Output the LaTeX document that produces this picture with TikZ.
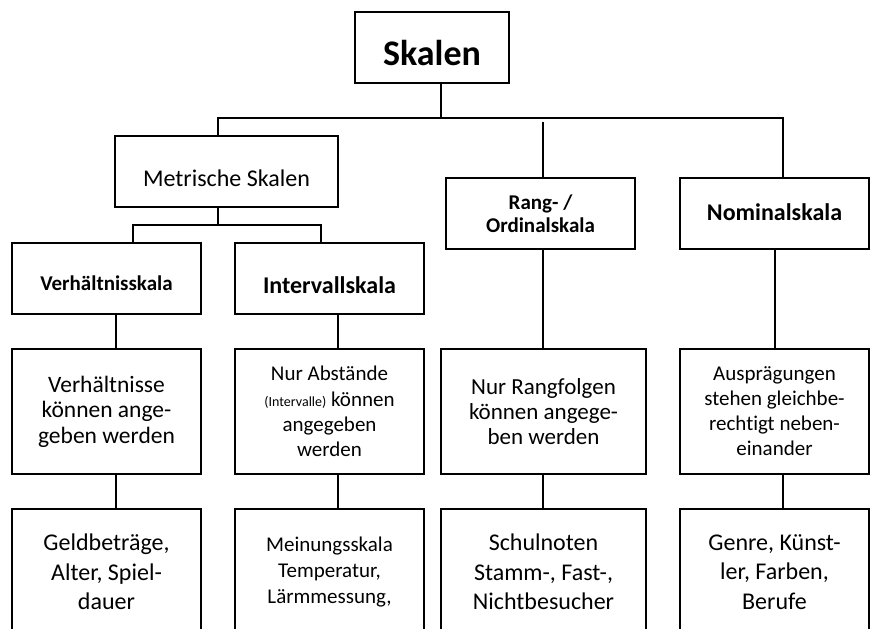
\documentclass[tikz,border=0pt]{standalone}
\usepackage{fontspec}
\setmainfont{Carlito}[Ligatures=NoCommon]

\begin{document}
\begin{tikzpicture}[x=1pt,y=-1pt,line width=1.8pt,
    box/.style={draw, rectangle, inner sep=0pt, align=center},
    hbox/.style={box, minimum width=189pt, minimum height=71pt, text depth=0pt},
    cbox/.style={box, minimum width=189pt, minimum height=125pt},
    lbox/.style={box, minimum width=189pt, minimum height=126pt}]

  \useasboundingbox (0,0) rectangle (870,629);
  \clip (0,0) rectangle (870,629);

  % top level
  \node[hbox, minimum width=154pt, text height=35pt,
        font=\fontsize{36}{40}\selectfont\bfseries]        (S)  at (432,47.5)    {Skalen};
  \node[hbox, minimum width=223pt, text height=29pt,
        font=\fontsize{24}{28}\selectfont]                 (M)  at (226.5,171.5) {Metrische Skalen};
  \node[box, minimum width=189pt, minimum height=71pt,
        font=\fontsize{21}{22.7}\selectfont\bfseries]      (R)  at (540.5,213.5) {Rang- /\\Ordinalskala};
  \node[hbox, text height=13pt,
        font=\fontsize{24}{28}\selectfont\bfseries]        (N)  at (774.5,213.5) {Nominalskala};
  \node[hbox, text height=23pt,
        font=\fontsize{21}{25}\selectfont\bfseries]        (V)  at (106.5,278.5) {Verhältnisskala};
  \node[hbox, text height=29.6pt,
        font=\fontsize{24}{28}\selectfont\bfseries]        (I)  at (329.5,278.5) {Intervallskala};

  % what can be said
  \node[cbox, font=\fontsize{23.5}{25.5}\selectfont]       (V2) at (106.5,411.5) {Verhältnisse\\können ange-\\geben werden};
  \node[cbox, font=\fontsize{21}{25.3}\selectfont]         (I2) at (329.5,411.5) {Nur Abstände\\{\fontsize{14}{14}\selectfont (Intervalle)} können\\angegeben\\werden};
  \node[cbox, minimum width=205pt,
        font=\fontsize{23}{25}\selectfont]                 (R2) at (543.5,411.5) {Nur Rangfolgen\\können angege-\\ben werden};
  \node[cbox, font=\fontsize{21}{25}\selectfont]           (N2) at (774.5,411.5) {Ausprägungen\\stehen gleichbe-\\rechtigt neben-\\einander};

  % examples
  \node[lbox, font=\fontsize{24}{29.6}\selectfont]         (V3) at (106.5,572)   {Geldbeträge,\\Alter, Spiel-\\dauer};
  \node[lbox, font=\fontsize{21}{25.8}\selectfont]         (I3) at (329.5,572)   {Meinungsskala\\Temperatur,\\Lärmmessung,};
  \node[lbox, minimum width=205pt,
        font=\fontsize{24}{29.6}\selectfont]               (R3) at (543.5,572)   {Schulnoten\\Stamm-, Fast-,\\Nichtbesucher};
  \node[lbox, font=\fontsize{24}{29.6}\selectfont]         (N3) at (774.5,572)   {Genre, Künst-\\ler, Farben,\\Berufe};

  \coordinate (hub)  at (441,118);
  \coordinate (barL) at (218,118);
  \coordinate (barR) at (783,118);
  \coordinate (rtop) at (543,122);
  \coordinate (sub)  at (218,225);
  \coordinate (subL) at (133,225);
  \coordinate (subR) at (321,225);
  \coordinate (k1)   at (116,0);
  \coordinate (k2)   at (338,0);
  \coordinate (k3)   at (543,0);
  \coordinate (k4)   at (775,0);

  \draw (S.south -| hub) -- (hub);
  \draw (M.north -| barL) |- (barR) -- (N.north -| barR);
  \draw (rtop) -- (R.north -| rtop);
  \draw (M.south -| sub) -- (sub);
  \draw (V.north -| subL) |- (subR) -- (I.north -| subR);

  \foreach \a/\b/\k in {V/V2/k1, V2/V3/k1, I/I2/k2, I2/I3/k2,
                        R/R2/k3, R2/R3/k3, N/N2/k4, N2/N3/barR}
    \draw (\a.south -| \k) -- (\b.north -| \k);
\end{tikzpicture}
\end{document}
